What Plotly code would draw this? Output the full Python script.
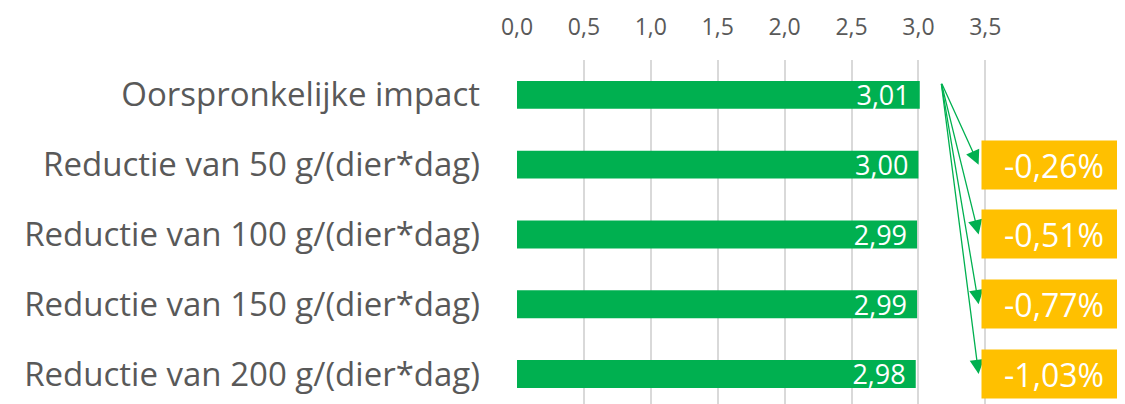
import plotly.graph_objects as go

# data
categories = [
    'Oorspronkelijke impact',
    'Reductie van 50 g/(dier*dag)',
    'Reductie van 100 g/(dier*dag)',
    'Reductie van 150 g/(dier*dag)',
    'Reductie van 200 g/(dier*dag)',
]
impact = [3.01, 3.00, 2.99, 2.99, 2.98]
change_labels = ['-0,26%', '-0,51%', '-0,77%', '-1,03%']
tick_vals = [0, 0.5, 1.0, 1.5, 2.0, 2.5, 3.0, 3.5]

GREEN = '#00B050'
ORANGE = '#FFC000'
GREY = '#595959'
FONT = 'Open Sans'

fig = go.Figure()

fig.add_trace(go.Bar(
    y=list(range(len(categories))),
    x=impact,
    orientation='h',
    width=0.4,
    marker=dict(color=GREEN, line=dict(width=0)),
    texttemplate='%{x:.2f}\u00a0',
    textposition='inside',
    insidetextanchor='end',
    constraintext='none',
    textfont=dict(color='white', size=27, family=FONT),
    cliponaxis=False,
    showlegend=False,
    hoverinfo='skip',
))

# arrows from the original bar to each reduction label
arrow_x0, arrow_y0 = 3.17, -0.18
arrow_x1 = 3.45
for i, lbl in enumerate(change_labels, start=1):
    fig.add_annotation(
        x=arrow_x1, y=i, ax=arrow_x0, ay=arrow_y0,
        xref='x', yref='y', axref='x', ayref='y',
        showarrow=True, arrowhead=2, arrowsize=2.2, arrowwidth=1.3,
        arrowcolor=GREEN, text='',
    )
    fig.add_annotation(
        x=3.47, y=i, xref='x', yref='y',
        xanchor='left', yanchor='middle',
        text=lbl, showarrow=False,
        font=dict(color='white', size=32, family=FONT),
        bgcolor=ORANGE, width=140, height=44, borderpad=2,
        align='center',
    )

fig.update_xaxes(
    side='top',
    range=[0, 3.52],
    tickvals=tick_vals,
    tickformat='.1f',
    showgrid=True, gridcolor='#D9D9D9', gridwidth=2,
    zeroline=False, showline=False,
    tickfont=dict(size=23, color=GREY, family=FONT),
    ticklabelstandoff=19,
    automargin=False,
)
fig.update_yaxes(
    range=[4.43, -0.5],
    tickvals=list(range(len(categories))),
    ticktext=categories,
    showgrid=False, zeroline=False, showline=False,
    tickfont=dict(size=33, color=GREY, family=FONT),
    ticklabelstandoff=36,
    automargin=False,
)

# page body has an 8px default margin, so the figure is shrunk to fit
fig.update_layout(
    width=1117, height=396,
    margin=dict(l=509, r=137, t=52, b=0),
    plot_bgcolor='white', paper_bgcolor='white',
    separators=', ',
    bargap=0.6,
)

fig.write_html('out.html')
